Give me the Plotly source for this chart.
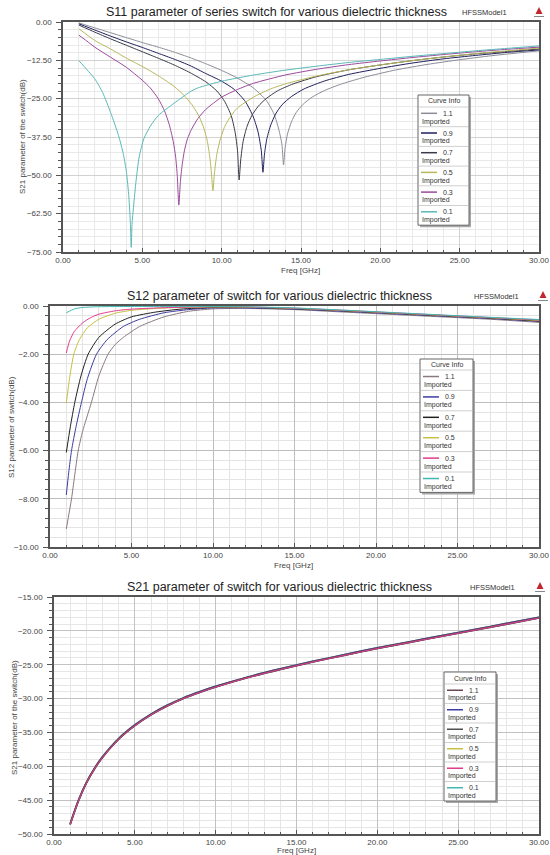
import plotly.graph_objects as go

W, H = 550, 855
FONT = "Liberation Sans, Arial, sans-serif"

thickness = ["1.1", "0.9", "0.7", "0.5", "0.3", "0.1"]

# ---------------- S11 (panel 1) ----------------
s11_f_11 = [1, 2, 3, 4, 5, 6, 7, 8, 9, 10, 11, 12, 12.8, 13.3, 13.6, 13.8, 13.9, 14.0, 14.15, 14.4, 14.7, 15.1, 15.7, 16.5, 17.5, 19, 21, 23, 25, 27, 30]
s11_db_11 = [-0.3, -1.9, -3.5, -5.1, -6.7, -8.2, -9.8, -11.6, -13.6, -15.8, -18.3, -21.5, -25.5, -30, -35, -40, -46.6, -41, -36.5, -32.5, -29.5, -27, -24.5, -22.3, -20.3, -18, -15.6, -13.8, -12.3, -11, -9.4]

s11_f_09 = [1, 2, 3, 4, 5, 6, 7, 8, 9, 10, 10.8, 11.5, 12.0, 12.3, 12.5, 12.6, 12.7, 12.85, 13.1, 13.4, 13.8, 14.4, 15.2, 16.5, 18, 20, 22, 24, 26, 28, 30]
s11_db_09 = [-0.6, -2.6, -4.6, -6.5, -8.3, -10.2, -12.1, -14.2, -16.8, -19.3, -22, -26, -31, -36, -42, -49, -43, -38, -33.5, -30, -27, -24.3, -21.8, -19.2, -17.1, -15.1, -13.4, -12, -10.9, -9.9, -9.1]

s11_f_07 = [1, 2, 3, 4, 5, 6, 7, 8, 9, 9.7, 10.2, 10.6, 10.85, 11.0, 11.1, 11.2, 11.35, 11.6, 11.9, 12.3, 12.8, 13.5, 14.5, 16, 18, 20, 22, 24, 26, 28, 30]
s11_db_07 = [-1.0, -3.3, -5.5, -7.6, -9.7, -11.8, -14, -16.5, -19.5, -22.5, -26, -30.5, -36, -42, -51.5, -45, -39, -34, -30.5, -27.5, -25, -22.5, -20.2, -17.8, -15.6, -14, -12.6, -11.4, -10.4, -9.6, -8.8]

s11_f_05 = [1, 2, 3, 4, 5, 6, 7, 7.7, 8.2, 8.6, 8.9, 9.1, 9.25, 9.35, 9.45, 9.55, 9.7, 9.9, 10.2, 10.6, 11, 12, 13, 14, 16, 18, 20, 22, 24, 26, 28, 30]
s11_db_05 = [-2.2, -6.0, -8.8, -11.8, -14.5, -17.5, -21, -24.3, -27.5, -31, -35, -39, -44, -49, -55, -49, -43, -38.5, -34, -30.5, -28, -24.5, -22, -20.2, -17.6, -15.6, -14, -12.6, -11.4, -10.3, -9.4, -8.5]

s11_f_03 = [1, 1.5, 2, 3, 4, 5, 5.5, 6, 6.4, 6.7, 6.95, 7.1, 7.2, 7.3, 7.4, 7.5, 7.65, 7.85, 8.1, 8.5, 9, 10, 11, 12, 14, 16, 18, 20, 22, 24, 26, 28, 30]
s11_db_03 = [-4.3, -6.2, -8.2, -11.5, -14.8, -19, -21.5, -25, -29, -33.5, -39, -44, -50, -59.7, -52, -47, -42, -38, -35, -31.5, -28.5, -24.5, -22, -20, -17.3, -15.4, -13.9, -12.7, -11.6, -10.6, -9.7, -8.9, -8.2]

s11_f_01 = [1, 1.5, 2, 2.5, 3, 3.5, 3.8, 4.0, 4.15, 4.25, 4.3, 4.35, 4.45, 4.6, 4.8, 5.1, 5.5, 6, 7, 8, 8.5, 10, 12, 14, 16, 18, 20, 22, 24, 26, 28, 30]
s11_db_01 = [-12.6, -15.5, -18.5, -23, -29.5, -37, -43, -49, -57, -66, -73.5, -66, -60, -52, -44, -38, -34, -30.5, -26.5, -22.8, -21.5, -19.3, -17.3, -15.7, -14.4, -13.2, -12.2, -11.2, -10.3, -9.4, -8.6, -7.8]

# ---------------- S12 (panel 2) ----------------
s12_f_11 = [1, 1.32, 1.5, 1.73, 2.0, 2.54, 3.0, 3.56, 4.0, 4.5, 5.5, 7, 8.5, 10, 12, 15, 18, 21, 24, 27, 30]
s12_db_11 = [-9.25, -8.0, -7.1, -6.0, -5.2, -4.0, -2.9, -2.0, -1.6, -1.3, -0.85, -0.45, -0.22, -0.12, -0.1, -0.15, -0.25, -0.35, -0.45, -0.55, -0.68]

s12_f_09 = [1, 1.15, 1.32, 1.6, 1.93, 2.3, 2.85, 3.5, 4.5, 5.5, 7, 8.5, 10, 12, 15, 18, 21, 24, 27, 30]
s12_db_09 = [-7.84, -6.9, -6.0, -5.0, -4.0, -3.0, -2.0, -1.4, -0.85, -0.55, -0.28, -0.15, -0.08, -0.08, -0.13, -0.22, -0.32, -0.42, -0.52, -0.64]

s12_f_07 = [1, 1.25, 1.52, 1.9, 2.34, 3, 4, 5, 6.5, 8, 10, 12, 15, 18, 21, 24, 27, 30]
s12_db_07 = [-6.08, -5.0, -4.0, -2.9, -2.0, -1.3, -0.75, -0.45, -0.25, -0.13, -0.06, -0.06, -0.11, -0.2, -0.3, -0.4, -0.5, -0.62]

s12_f_05 = [1, 1.2, 1.46, 1.8, 2.3, 3, 4, 5, 6.5, 8, 10, 12, 15, 18, 21, 24, 27, 30]
s12_db_05 = [-4.03, -3.0, -2.0, -1.4, -0.9, -0.55, -0.3, -0.18, -0.1, -0.06, -0.04, -0.05, -0.1, -0.19, -0.29, -0.39, -0.49, -0.6]

s12_f_03 = [1, 1.2, 1.5, 2, 2.5, 3, 4, 5, 7, 10, 12, 15, 18, 21, 24, 27, 30]
s12_db_03 = [-1.95, -1.45, -1.05, -0.7, -0.48, -0.34, -0.2, -0.13, -0.07, -0.03, -0.04, -0.09, -0.18, -0.28, -0.38, -0.48, -0.58]

s12_f_01 = [1, 1.5, 2, 3, 5, 10, 12, 15, 18, 21, 24, 27, 30]
s12_db_01 = [-0.28, -0.12, -0.06, -0.03, -0.02, -0.02, -0.03, -0.08, -0.17, -0.27, -0.37, -0.47, -0.56]

# ---------------- S21 (panel 3) ----------------
s21_f = [1, 1.5, 2, 2.5, 3, 4, 5, 6, 7, 8, 9, 10, 12, 14, 16, 18, 20, 22, 24, 26, 28, 30]
s21_db_11 = [-48.6, -45.2, -42.5, -40.4, -38.7, -36.0, -34.0, -32.4, -31.1, -30.0, -29.1, -28.3, -26.9, -25.7, -24.6, -23.6, -22.6, -21.7, -20.8, -19.9, -19.0, -18.1]
s21_db_09 = [-48.5, -45.1, -42.4, -40.3, -38.6, -35.9, -33.9, -32.3, -31.0, -29.9, -29.0, -28.2, -26.8, -25.6, -24.5, -23.5, -22.5, -21.6, -20.7, -19.8, -18.9, -18.0]
s21_db_07 = [-48.6, -45.2, -42.5, -40.4, -38.7, -36.0, -34.0, -32.4, -31.1, -30.0, -29.1, -28.3, -26.9, -25.7, -24.6, -23.6, -22.6, -21.7, -20.8, -19.9, -19.0, -18.1]
s21_db_05 = [-48.5, -45.1, -42.4, -40.3, -38.6, -35.9, -33.9, -32.3, -31.0, -29.9, -29.0, -28.2, -26.8, -25.6, -24.5, -23.5, -22.5, -21.6, -20.7, -19.8, -18.9, -18.0]
s21_db_03 = [-48.6, -45.2, -42.5, -40.4, -38.7, -36.0, -34.0, -32.4, -31.1, -30.0, -29.1, -28.3, -26.9, -25.7, -24.6, -23.6, -22.6, -21.7, -20.8, -19.9, -19.0, -18.1]
s21_db_01 = [-48.5, -45.1, -42.4, -40.3, -38.6, -35.9, -33.9, -32.3, -31.0, -29.9, -29.0, -28.2, -26.8, -25.6, -24.5, -23.5, -22.5, -21.6, -20.7, -19.8, -18.9, -18.0]

colors_p1 = ["#8c8c98", "#1f1f5c", "#3a3a48", "#b8b85a", "#9b4a9b", "#5ab8b8"]
colors_p2 = ["#8a7a80", "#3c3ca0", "#202020", "#c8c040", "#e03c8c", "#40b8b0"]
colors_p3 = ["#6a4858", "#3c3ca0", "#505050", "#c8c040", "#e03c8c", "#40b8b0"]

titles = ["S11 parameter of series switch for various dielectric thickness",
          "S12 parameter of switch for various dielectric thickness",
          "S21 parameter of switch for various dielectric thickness"]
ytitles = ["S21 parameter of the switch(dB)", "S12 parameter of switch(dB)", "S21 parameter of the switch(dB)"]

# ---------------- layout geometry (pixels) ----------------
panels = [dict(x0=63, x1=539, y0=22, y1=252, yr=[-75, 0], dy=12.5, mdy=2.5, gmaj="#d2d2d2", gmin="#e9e9e9"),
          dict(x0=50, x1=539, y0=306, y1=547, yr=[-10, 0], dy=2, mdy=0.4, gmaj="#bdbdbd", gmin="#e4e4e4"),
          dict(x0=54, x1=539, y0=597, y1=834, yr=[-50, -15], dy=5, mdy=1, gmaj="#c2c2c2", gmin="#e6e6e6")]


def px(x):
    return x / W


def py(y):
    return 1 - y / H


fig = go.Figure()

p1_data = [(s11_f_11, s11_db_11), (s11_f_09, s11_db_09), (s11_f_07, s11_db_07),
           (s11_f_05, s11_db_05), (s11_f_03, s11_db_03), (s11_f_01, s11_db_01)]
p2_data = [(s12_f_11, s12_db_11), (s12_f_09, s12_db_09), (s12_f_07, s12_db_07),
           (s12_f_05, s12_db_05), (s12_f_03, s12_db_03), (s12_f_01, s12_db_01)]
p3_data = [(s21_f, s21_db_11), (s21_f, s21_db_09), (s21_f, s21_db_07),
           (s21_f, s21_db_05), (s21_f, s21_db_03), (s21_f, s21_db_01)]

for i, (f, v) in enumerate(p1_data):
    fig.add_trace(go.Scatter(x=f, y=v, mode="lines", name=thickness[i],
                             line=dict(color=colors_p1[i], width=1, shape="spline", smoothing=0.6),
                             xaxis="x", yaxis="y", showlegend=False, hoverinfo="skip"))
for i, (f, v) in enumerate(p2_data):
    fig.add_trace(go.Scatter(x=f, y=v, mode="lines", name=thickness[i],
                             line=dict(color=colors_p2[i], width=1, shape="spline", smoothing=0.6),
                             xaxis="x2", yaxis="y2", showlegend=False, hoverinfo="skip"))
order3 = [5, 3, 1, 2, 0, 4]
for i in order3:
    f, v = p3_data[i]
    fig.add_trace(go.Scatter(x=f, y=v, mode="lines", name=thickness[i],
                             line=dict(color=colors_p3[i], width=1.6 if i != 4 else 1.0,
                                       shape="spline", smoothing=0.8),
                             xaxis="x3", yaxis="y3", showlegend=False, hoverinfo="skip"))

shapes = []
annotations = []
layout = dict(width=W, height=H, margin=dict(l=0, r=0, t=0, b=0, autoexpand=False),
              paper_bgcolor="white", plot_bgcolor="white", showlegend=False,
              font=dict(family=FONT, color="#333"))

for k, p in enumerate(panels):
    sx = "" if k == 0 else str(k + 1)
    xa = dict(domain=[px(p["x0"]), px(p["x1"])], range=[0, 30], dtick=5, tick0=0,
              tickformat=".2f", anchor="y" + sx, showline=True, mirror=True, automargin=False,
              linecolor="#555", linewidth=1.5, ticks="inside", ticklen=4,
              tickcolor="#555", showgrid=True, gridcolor=p["gmaj"], gridwidth=1,
              zeroline=False, tickfont=dict(size=8, color="#444", family=FONT),
              minor=dict(dtick=1, showgrid=True, gridcolor=p["gmin"], ticks="inside",
                         ticklen=2, tickcolor="#555"),
              fixedrange=True)
    ya = dict(domain=[py(p["y1"]), py(p["y0"])], range=p["yr"], dtick=p["dy"], tick0=0,
              tickformat=".2f", anchor="x" + sx, showline=True, mirror=True, automargin=False,
              linecolor="#555", linewidth=1.5, ticks="outside", ticklen=5,
              tickcolor="#555", showgrid=True, gridcolor=p["gmaj"], gridwidth=1,
              zeroline=False, tickfont=dict(size=8, color="#444", family=FONT),
              ticklabelstandoff=3,
              minor=dict(dtick=p["mdy"], showgrid=True, gridcolor=p["gmin"], ticks="outside",
                         ticklen=3, tickcolor="#555"),
              fixedrange=True)
    layout["xaxis" + sx] = xa
    layout["yaxis" + sx] = ya

# titles, axis titles, HFSS label
title_pos = [(276, 12), (279, 296), (280, 587)]
ytitle_pos = [(23, 137), (11, 427), (14, 718)]
xtitle_pos = [(300, 270), (293, 565), (296, 850)]
hfss_pos = [(484, 12), (496, 296), (492, 587)]
logo_pos = [(539, 12), (543, 296), (540, 587)]

for k in range(3):
    tx, ty = title_pos[k]
    annotations.append(dict(x=px(tx), y=py(ty), xref="paper", yref="paper", text=titles[k],
                            showarrow=False, xanchor="center", yanchor="middle",
                            font=dict(size=12.5, color="#222", family=FONT)))
    yx, yy = ytitle_pos[k]
    annotations.append(dict(x=px(yx), y=py(yy), xref="paper", yref="paper", text=ytitles[k],
                            showarrow=False, textangle=-90, xanchor="center", yanchor="middle",
                            font=dict(size=8, color="#444", family=FONT)))
    xx, xy = xtitle_pos[k]
    annotations.append(dict(x=px(xx), y=py(xy), xref="paper", yref="paper", text="Freq [GHz]",
                            showarrow=False, xanchor="center", yanchor="middle",
                            font=dict(size=8, color="#444", family=FONT)))
    hx, hy = hfss_pos[k]
    annotations.append(dict(x=px(hx), y=py(hy), xref="paper", yref="paper", text="HFSSModel1",
                            showarrow=False, xanchor="center", yanchor="middle",
                            font=dict(size=7.5, color="#333", family=FONT)))
    lx, ly = logo_pos[k]
    shapes.append(dict(type="path", xref="paper", yref="paper",
                       path="M %f %f L %f %f L %f %f Z" % (px(lx - 3.5), py(ly + 2), px(lx + 3.5), py(ly + 2),
                                                         px(lx), py(ly - 5)),
                       fillcolor="#c0272d", line=dict(width=0)))
    shapes.append(dict(type="line", xref="paper", yref="paper", x0=px(lx - 5), x1=px(lx + 5),
                       y0=py(ly + 4.5), y1=py(ly + 4.5), line=dict(color="#888", width=1)))

# custom "Curve Info" legends
legends = [dict(x0=418, x1=469, y0=95, hh=12, eh=19.7, colors=colors_p1),
           dict(x0=420, x1=473, y0=359, hh=11, eh=20.4, colors=colors_p2),
           dict(x0=444, x1=496, y0=672, hh=12, eh=19.5, colors=colors_p3)]

for L in legends:
    x0, x1, y0, hh, eh = L["x0"], L["x1"], L["y0"], L["hh"], L["eh"]
    y1 = y0 + hh + 6 * eh
    shapes.append(dict(type="rect", xref="paper", yref="paper", x0=px(x0 + 2), x1=px(x1 + 2),
                       y0=py(y1 + 2), y1=py(y0 + 2), fillcolor="#a8a8a8", line=dict(width=0)))
    shapes.append(dict(type="rect", xref="paper", yref="paper", x0=px(x0), x1=px(x1),
                       y0=py(y1), y1=py(y0), fillcolor="white", line=dict(color="#666", width=1)))
    annotations.append(dict(x=px((x0 + x1) / 2), y=py(y0 + hh / 2), xref="paper", yref="paper",
                            text="Curve Info", showarrow=False, xanchor="center", yanchor="middle",
                            font=dict(size=7, color="#333", family=FONT)))
    for i in range(6):
        top = y0 + hh + i * eh
        shapes.append(dict(type="line", xref="paper", yref="paper", x0=px(x0 + 1), x1=px(x1 - 1),
                           y0=py(top), y1=py(top), line=dict(color="#cfcfcf", width=1)))
        ly = top + eh * 0.32
        shapes.append(dict(type="line", xref="paper", yref="paper", x0=px(x0 + 3), x1=px(x0 + 19),
                           y0=py(ly), y1=py(ly), line=dict(color=L["colors"][i], width=1.5)))
        annotations.append(dict(x=px(x0 + 23), y=py(ly), xref="paper", yref="paper",
                                text=thickness[i], showarrow=False, xanchor="left", yanchor="middle",
                                font=dict(size=7, color="#333", family=FONT)))
        annotations.append(dict(x=px(x0 + 1.5), y=py(top + eh * 0.74), xref="paper", yref="paper",
                                text="Imported", showarrow=False, xanchor="left", yanchor="middle",
                                font=dict(size=7, color="#333", family=FONT)))

layout["shapes"] = shapes
layout["annotations"] = annotations
fig.update_layout(**layout)
fig.write_html("out.html")
